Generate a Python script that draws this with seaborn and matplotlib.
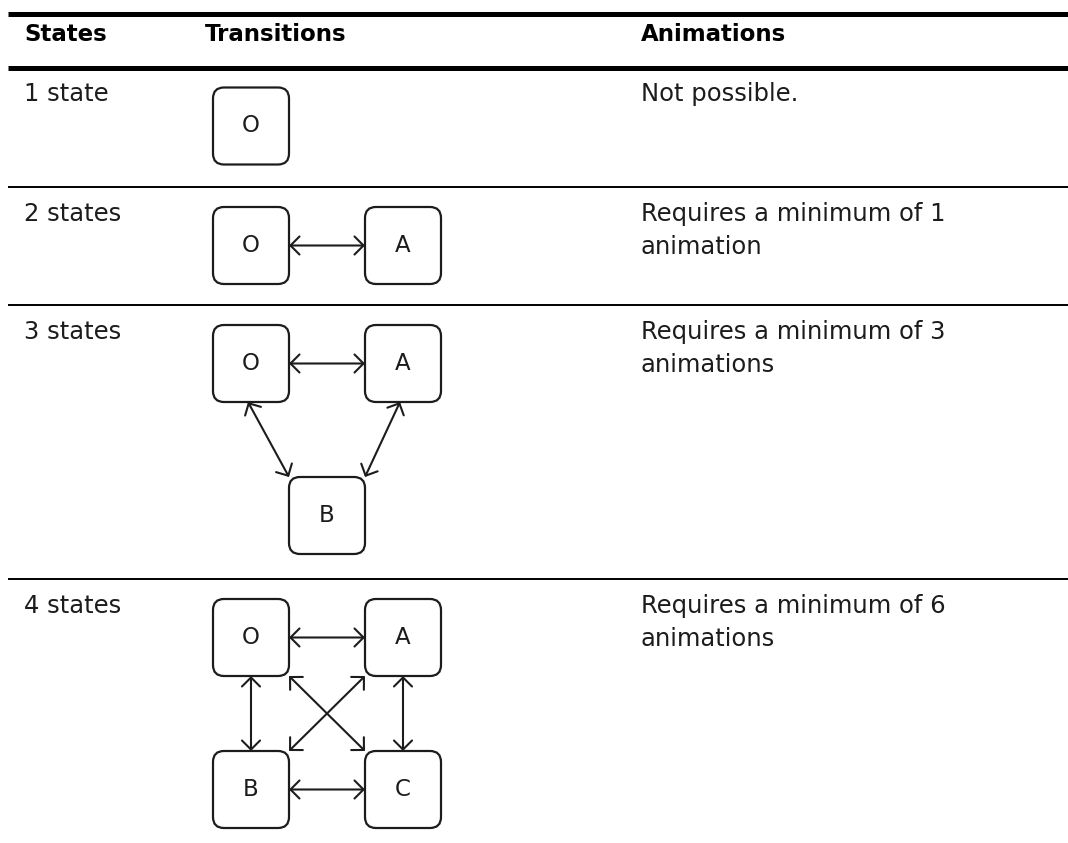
import matplotlib.pyplot as plt
import seaborn as sns
from matplotlib.patches import FancyBboxPatch, FancyArrowPatch

sns.set_style("white")
plt.rcParams['font.family'] = ['DejaVu Sans']

# ---------------------------------------------------------
# Datos de la tabla
# ---------------------------------------------------------
header = ["States", "Transitions", "Animations"]
state_labels = ["1 state", "2 states", "3 states", "4 states"]
animation_notes = [
    "Not possible.",
    "Requires a minimum of 1\nanimation",
    "Requires a minimum of 3\nanimations",
    "Requires a minimum of 6\nanimations",
]
node_names = [["O"], ["O", "A"], ["O", "A", "B"], ["O", "A", "B", "C"]]
transitions = [
    [],
    [("O", "A")],
    [("O", "A"), ("O", "B"), ("A", "B")],
    [("O", "A"), ("O", "B"), ("A", "C"), ("B", "C"), ("O", "C"), ("A", "B")],
]

# ---------------------------------------------------------
# Layout (pixeles de la figura)
# ---------------------------------------------------------
W, H = 1068, 843
ink = '#1c1c1c'
fs = 17.5       # texto normal
fs_head = 16.5  # encabezado en negrita
fs_box = 16.5
col_x = [24, 205, 641]
row_lines = [67.5, 187, 305, 579]
box_w, box_h = 76, 77
grid_x0, step = 213, 152
box_gap_top = 20
line_gap = 33

# posicion en grilla de cada nodo (la B del caso de 3 estados va centrada)
grid_pos = {"O": (0, 0), "A": (1, 0), "B": (0, 1), "C": (1, 1)}

fig = plt.figure(figsize=(W / 100, H / 100), dpi=100)
ax = fig.add_axes([0, 0, 1, 1])
ax.set_xlim(0, W)
ax.set_ylim(H, 0)
ax.axis('off')

# Reglas de la tabla
ax.plot([8, W], [13.5, 13.5], color='black', lw=3.6, solid_capstyle='butt')
ax.plot([8, W], [67.5, 67.5], color='black', lw=3.6, solid_capstyle='butt')
for y in row_lines[1:]:
    ax.plot([8, W], [y, y], color='black', lw=1.4, solid_capstyle='butt')

# Encabezado
for x, txt in zip(col_x, header):
    ax.text(x, 41, txt, fontsize=fs_head, fontweight='bold', color='black', va='baseline', ha='left')

for i, (lbl, note, nodes, edges) in enumerate(zip(state_labels, animation_notes, node_names, transitions)):
    top = row_lines[i] + (34 if i > 0 else 33.5)
    ax.text(col_x[0], top, lbl, fontsize=fs, color=ink, va='baseline', ha='left')
    for j, linea in enumerate(note.split('\n')):
        ax.text(col_x[2], top + j * line_gap, linea, fontsize=fs, color=ink, va='baseline', ha='left')

    # cajas
    y0 = row_lines[i] + box_gap_top
    rects = {}
    for n in nodes:
        gx, gy = grid_pos[n]
        if len(nodes) == 3 and n == "B":
            gx = 0.5
        left = grid_x0 + gx * step
        tp = y0 + gy * step
        rects[n] = (left, tp, gx, gy)
        ax.add_patch(FancyBboxPatch((left, tp), box_w, box_h,
                                    boxstyle="round,pad=0,rounding_size=11",
                                    fc='white', ec=ink, lw=1.6, zorder=3))
        ax.text(left + box_w / 2, tp + box_h / 2, n, fontsize=fs_box, color=ink,
                ha='center', va='center', zorder=4)

    # flechas
    for a, b in edges:
        la, ta, gxa, gya = rects[a]
        lb, tb, gxb, gyb = rects[b]
        if gya == gyb:
            pa = (la + box_w, ta + box_h / 2)
            pb = (lb, tb + box_h / 2)
        elif gxa == gxb:
            pa = (la + box_w / 2, ta + box_h)
            pb = (lb + box_w / 2, tb)
        elif abs(gxb - gxa) == 1:
            pa = (la + box_w if gxb > gxa else la, ta + box_h)
            pb = (lb if gxb > gxa else lb + box_w, tb)
        else:
            pa = (la + box_w / 2 - 3, ta + box_h)
            pb = (lb if gxb > gxa else lb + box_w, tb)
        ax.add_patch(FancyArrowPatch(pa, pb, arrowstyle='<->,head_length=0.5,head_width=0.5',
                                     mutation_scale=13, shrinkA=0, shrinkB=0,
                                     lw=1.5, color=ink, zorder=2))

plt.savefig('out.png', dpi=100)
